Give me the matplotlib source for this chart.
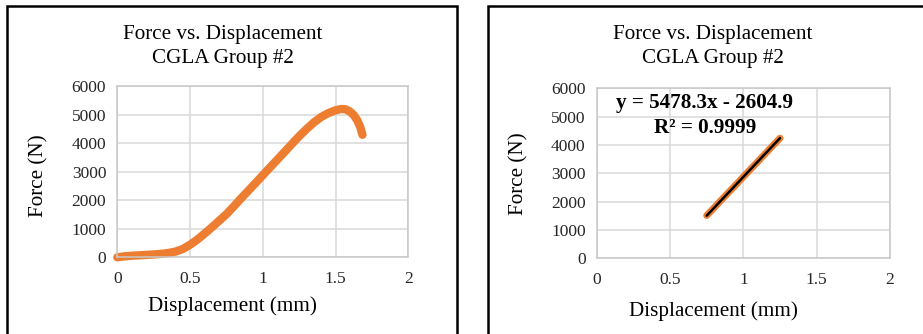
import numpy as np
import matplotlib
matplotlib.use("Agg")
import matplotlib.pyplot as plt
from matplotlib.patches import Rectangle

# Full test curve (left chart)
disp_full = [0.0, 0.05, 0.1, 0.15, 0.2, 0.25, 0.3, 0.35, 0.4, 0.45, 0.5,
             0.55, 0.6, 0.65, 0.7, 0.75, 0.8, 0.85, 0.9, 0.95, 1.0, 1.05,
             1.1, 1.15, 1.2, 1.25, 1.3, 1.35, 1.4, 1.45, 1.5, 1.54, 1.57,
             1.6, 1.625, 1.65, 1.67, 1.685]
force_full = [0, 35, 55, 70, 85, 100, 120, 150, 200, 290, 440,
              620, 830, 1050, 1280, 1510, 1780, 2060, 2330, 2600, 2875, 3150,
              3420, 3695, 3970, 4240, 4490, 4720, 4910, 5050, 5150, 5195, 5185,
              5100, 4980, 4790, 4560, 4290]

# Linear region used for the fit (right chart)
disp_fit = [0.75, 0.8, 0.85, 0.9, 0.95, 1.0, 1.05, 1.1, 1.15, 1.2, 1.25]
force_fit = [1510, 1780, 2060, 2330, 2600, 2875, 3150, 3420, 3695, 3970, 4240]

# Trendline shown on the chart
SLOPE = 5478.3
INTERCEPT = -2604.9
R2 = 0.9999

x_ticks = [0, 0.5, 1, 1.5, 2]
y_ticks = [0, 1000, 2000, 3000, 4000, 5000, 6000]

ORANGE = "#ED7D31"
GRID = "#D9D9D9"
FONT = "Liberation Serif"

W, H = 923, 334
plt.rcParams['font.family'] = [FONT, 'DejaVu Serif']

fig = plt.figure(figsize=(W / 100, H / 100), dpi=100)


def px_axes(left, top, right, bottom):
    # pixel box (from top-left) -> figure fraction rect
    return [left / W, 1 - bottom / H, (right - left) / W, (bottom - top) / H]


def ftext(x, y, s, **kw):
    fig.text(x / W, 1 - y / H, s, ha="center", va="center", **kw)


def panel_border(left, top, right):
    # chart-area frame; bottom (and right on 2nd) run off the image
    fig.add_artist(Rectangle((left / W, -0.1), (right - left) / W, 1.1 - top / H,
                             transform=fig.transFigure, fill=False,
                             edgecolor="black", linewidth=1.8))


def style_axes(ax):
    ax.set_xlim(0, 2)
    ax.set_ylim(0, 6000)
    ax.set_xticks(x_ticks)
    ax.set_xticklabels([f"{t:g}" for t in x_ticks])
    ax.set_yticks(y_ticks)
    ax.grid(True, color=GRID, linewidth=1.1)
    ax.set_axisbelow(True)
    for sp in ax.spines.values():
        sp.set_color("#C8C8C8")
        sp.set_linewidth(1.1)
    ax.tick_params(length=0, labelsize=12.5, colors="#262626", pad=8)
    ax.tick_params(axis="x", pad=10)


# ---- left chart
panel_border(7, 6, 457)
ax1 = fig.add_axes(px_axes(117.3, 86, 408.3, 257.3))
style_axes(ax1)
ax1.plot(disp_full, force_full, color=ORANGE, linewidth=6,
         solid_capstyle="round", solid_joinstyle="round", clip_on=False)
ftext(223, 35, "Force vs. Displacement", fontsize=15.2)
ftext(223, 59, "CGLA Group #2", fontsize=15.2)
ftext(39, 176, "Force (N)", fontsize=15.2, rotation=90)
ftext(232, 306, "Displacement (mm)", fontsize=15.2)

# ---- right chart
panel_border(488, 6, 940)
ax2 = fig.add_axes(px_axes(596.7, 88.3, 890, 258.3))
style_axes(ax2)
ax2.plot(disp_fit, force_fit, color=ORANGE, linewidth=5,
         solid_capstyle="round", solid_joinstyle="round")
trend_x = np.array([disp_fit[0], disp_fit[-1]])
ax2.plot(trend_x, SLOPE * trend_x + INTERCEPT, color="black", linewidth=1.8,
         solid_capstyle="round")
ftext(712.7, 34, "Force vs. Displacement", fontsize=15.2)
ftext(712.7, 59, "CGLA Group #2", fontsize=15.2)
ftext(519, 174, "Force (N)", fontsize=15.2, rotation=90)
ftext(713, 311, "Displacement (mm)", fontsize=15.2)
ftext(704.7, 103, f"y = {SLOPE}x - {abs(INTERCEPT)}", fontsize=15.2,
      fontweight="bold")
ftext(705, 128, f"R² = {R2}", fontsize=15.2, fontweight="bold")

fig.savefig("out.png", dpi=100)
